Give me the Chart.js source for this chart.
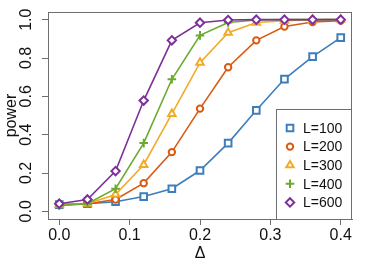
<!DOCTYPE html>
<html>
<head>
<meta charset="utf-8">
<script src="https://cdn.jsdelivr.net/npm/chart.js@4.4.1/dist/chart.umd.min.js"></script>
<style>
  html, body { margin: 0; padding: 0; background: #fff; }
  #wrap { width: 374px; height: 267px; }
</style>
</head>
<body>
<div id="wrap"><canvas id="powerChart" width="374" height="267"></canvas></div>
<script>
const delta = [0, 0.04, 0.08, 0.12, 0.16, 0.2, 0.24, 0.28, 0.32, 0.36, 0.4];
const power100 = [0.035, 0.04, 0.05, 0.077, 0.118, 0.213, 0.356, 0.527, 0.69, 0.807, 0.906];
const power200 = [0.035, 0.04, 0.062, 0.147, 0.309, 0.536, 0.752, 0.892, 0.964, 0.988, 0.995];
const power300 = [0.035, 0.04, 0.088, 0.243, 0.509, 0.776, 0.932, 0.985, 0.995, 0.999, 1.0];
const power400 = [0.03, 0.04, 0.118, 0.356, 0.689, 0.918, 0.985, 0.998, 1.0, 1.0, 1.0];
const power600 = [0.04, 0.062, 0.21, 0.578, 0.892, 0.984, 0.998, 1.0, 1.0, 1.0, 1.0];
const seriesLabels = ["L=100", "L=200", "L=300", "L=400", "L=600"];
const xTicks = [0, 0.1, 0.2, 0.3, 0.4];
const yTicks = [0, 0.2, 0.4, 0.6, 0.8, 1.0];

const FONT = "'Liberation Sans', Arial, Helvetica, sans-serif";
const AXIS_GRAY = "#6e6e6e";

const styles = [
  { color: "#3c7ebb", point: "rect", radius: 4.7 },
  { color: "#da5a12", point: "circle", radius: 3.2 },
  { color: "#f3aa28", point: "triangle", radius: 4.3 },
  { color: "#6baa2e", point: "cross", radius: 4.3 },
  { color: "#7d2f9a", point: "rectRot", radius: 4.2 },
];
const allSeries = [power100, power200, power300, power400, power600];

const datasets = allSeries.map((vals, i) => ({
  label: seriesLabels[i],
  data: vals.map((v, j) => ({ x: delta[j], y: v })),
  borderColor: styles[i].color,
  backgroundColor: "#fff",
  borderWidth: 1.6,
  pointStyle: styles[i].point,
  pointRadius: styles[i].radius,
  pointBorderWidth: 2,
  pointBackgroundColor: "#fff",
  pointBorderColor: styles[i].color,
  order: 5 - i, // L=600 drawn on top
}));

// box around the plot, rotated y labels, and the legend
const rStyle = {
  id: "rStyle",
  afterDraw(chart) {
    const { ctx, chartArea: a } = chart;
    const yScale = chart.scales.y;
    ctx.save();
    ctx.strokeStyle = AXIS_GRAY;
    ctx.lineWidth = 1;
    ctx.strokeRect(a.left + 0.5, a.top + 0.5, a.right - a.left - 1, a.bottom - a.top);

    // y tick labels, rotated like R
    ctx.fillStyle = "#111";
    ctx.font = "16px " + FONT;
    ctx.textAlign = "center";
    ctx.textBaseline = "middle";
    yTicks.forEach((v) => {
      const py = yScale.getPixelForValue(v);
      ctx.save();
      ctx.translate(a.left - 21, py);
      ctx.rotate(-Math.PI / 2);
      ctx.fillText(v.toFixed(1), 0, 0);
      ctx.restore();
    });

    // legend
    const lx = 276, ly = 109;
    ctx.fillStyle = "#fff";
    ctx.fillRect(lx, ly, a.right - lx, a.bottom - ly);
    ctx.strokeStyle = AXIS_GRAY;
    ctx.strokeRect(lx + 0.5, ly + 0.5, a.right - lx - 1, a.bottom - ly);
    ctx.font = "14px " + FONT;
    ctx.textAlign = "left";
    seriesLabels.forEach((lab, i) => {
      const cy = 128 + i * 18.6;
      ctx.strokeStyle = styles[i].color;
      ctx.fillStyle = "#fff";
      ctx.lineWidth = 2;
      Chart.helpers.drawPoint(ctx, {
        pointStyle: styles[i].point,
        radius: styles[i].radius,
        rotation: 0,
        borderWidth: 2,
      }, 290, cy);
      ctx.fillStyle = "#111";
      ctx.fillText(lab, 303, cy + 1);
    });
    ctx.restore();
  },
};

new Chart(document.getElementById("powerChart").getContext("2d"), {
  type: "line",
  data: { datasets },
  options: {
    responsive: false,
    animation: false,
    layout: { padding: { top: 12, right: 22, left: 0, bottom: 0 } },
    plugins: { legend: { display: false }, tooltip: { enabled: false } },
    scales: {
      x: {
        type: "linear",
        min: -0.016,
        max: 0.416,
        afterBuildTicks: (s) => { s.ticks = xTicks.map((v) => ({ value: v })); },
        afterFit: (s) => { s.height = 48; },
        grid: { drawOnChartArea: false, drawTicks: true, tickLength: 6, color: AXIS_GRAY },
        border: { display: true, color: AXIS_GRAY },
        ticks: {
          color: "#111",
          padding: 1,
          maxRotation: 0,
          font: { family: FONT, size: 16 },
          callback: (v) => Number(v).toFixed(1),
        },
        title: {
          display: true,
          text: "Δ",
          color: "#111",
          padding: { top: 0, bottom: 4 },
          font: { family: FONT, size: 16 },
        },
      },
      y: {
        min: -0.04,
        max: 1.04,
        afterBuildTicks: (s) => { s.ticks = yTicks.map((v) => ({ value: v })); },
        afterFit: (s) => { s.width = 48; },
        grid: { drawOnChartArea: false, drawTicks: true, tickLength: 6, color: AXIS_GRAY },
        border: { display: true, color: AXIS_GRAY },
        ticks: { display: false },
        title: {
          display: true,
          text: "power",
          color: "#111",
          padding: { top: 2, bottom: 0 },
          font: { family: FONT, size: 16 },
        },
      },
    },
  },
  plugins: [rStyle],
});
</script>
</body>
</html>
